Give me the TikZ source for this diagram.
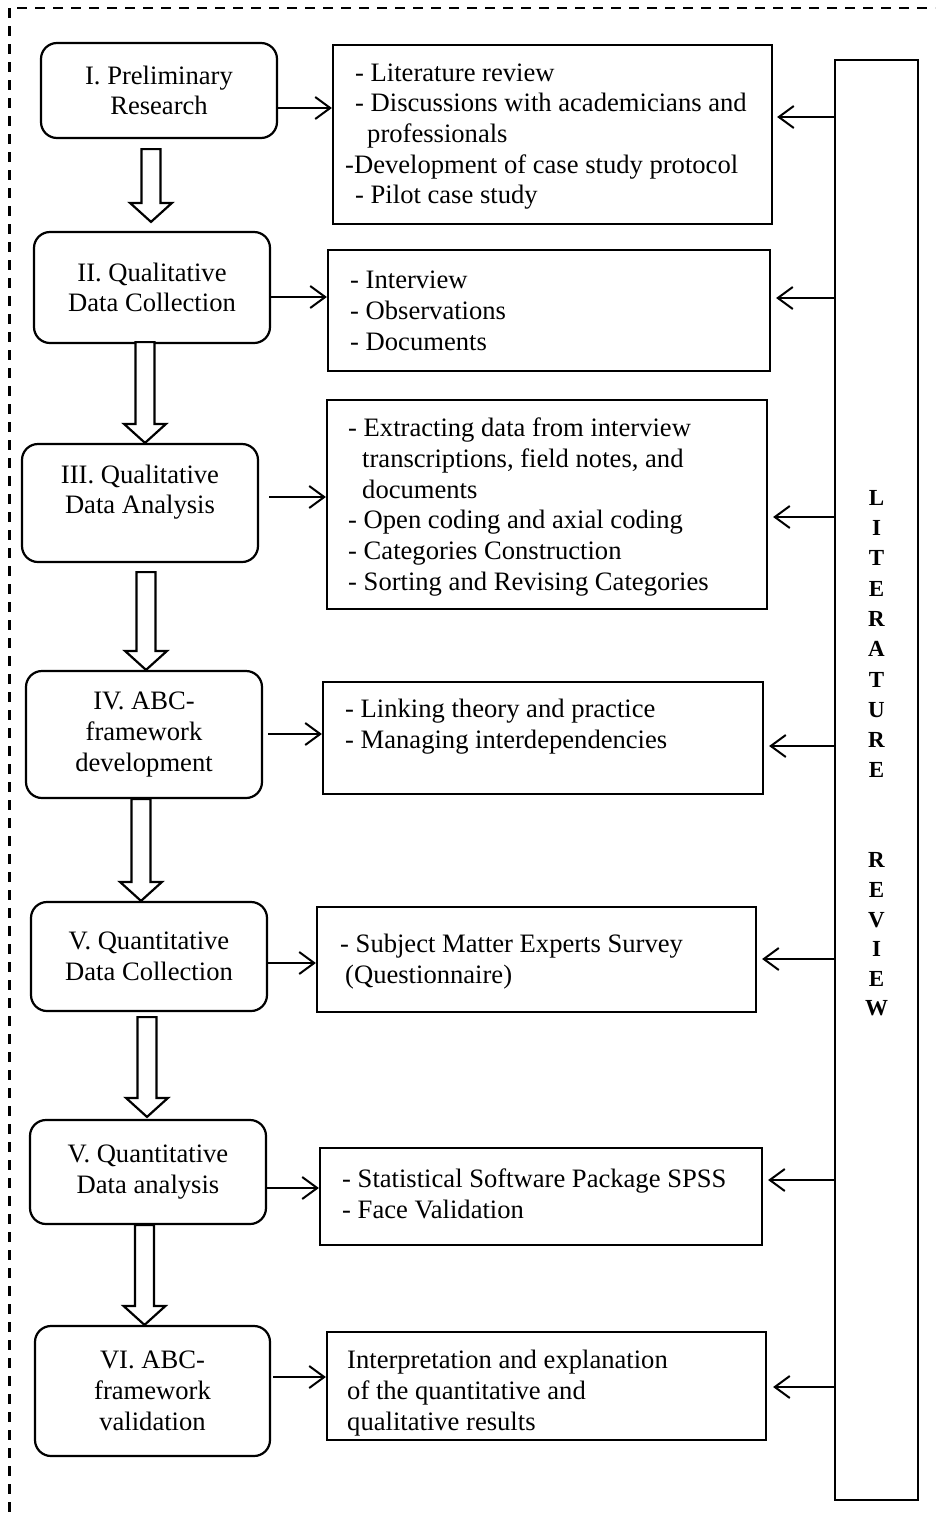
\documentclass[tikz,border=0pt]{standalone}
\usepackage{fontspec}
\setmainfont{Liberation Serif}
\usetikzlibrary{arrows.meta,calc}
\newcommand\dfont{\fontsize{26.6pt}{30.7pt}\selectfont}
\newcommand\blockarr[5]{%
  \draw[blk] let \p1=(#1.south), \p2=(#2.north) in
    (#3pt-9.5pt,\y1-#4pt) -- (#3pt+9.5pt,\y1-#4pt) -- (#3pt+9.5pt,\y2+#5pt+19pt)
    -- (#3pt+21pt,\y2+#5pt+19pt) -- (#3pt,\y2+#5pt) -- (#3pt-21pt,\y2+#5pt+19pt)
    -- (#3pt-9.5pt,\y2+#5pt+19pt) -- cycle;}
\tikzset{
  lbox/.style={draw, line width=2.2pt, rounded corners=16pt, align=center, font=\dfont, inner sep=0pt},
  rbox/.style={draw, line width=2.2pt, inner sep=0pt},
  rtext/.style={anchor=west, align=left, font=\dfont, inner sep=0pt},
  ltext/.style={align=center, font=\dfont, inner sep=0pt},
  lrtext/.style={align=center, font=\fontsize{23pt}{30.3pt}\selectfont\bfseries, inner sep=0pt},
  conn/.style={line width=2pt, -{Straight Barb[length=15pt,width=22pt,line width=2pt]}},
  blk/.style={draw, fill=white, line width=2.2pt, line join=miter},
  border/.style={draw, line width=2.2pt, dash pattern=on 10pt off 8pt}
}
\begin{document}
\begin{tikzpicture}[x=1pt,y=-1pt]
\useasboundingbox (0,0) rectangle (935,1516);
\fill[white] (0,0) rectangle (935,1516);
\clip (0,0) rectangle (935,1516);
\draw[border] (9.5,8) rectangle (1000,1600);

% left boxes
\node[lbox, minimum width=236pt, minimum height=95pt] (L1) at (159,90.5) {I. Preliminary\\Research};
\node[lbox, minimum width=236pt, minimum height=111pt] (L2) at (152,287.5) {II. Qualitative\\Data Collection};
\node[lbox, minimum width=236pt, minimum height=118pt] (L3) at (140,503) {};
\node[ltext] (L3t) at (140,492) {III. Qualitative\\Data Analysis};
\node[lbox, minimum width=236pt, minimum height=127pt] (L4) at (144,734.5) {IV. ABC-\\framework\\development};
\node[lbox, minimum width=236pt, minimum height=109pt] (L5) at (149,956.5) {V. Quantitative\\Data Collection};
\node[lbox, minimum width=236pt, minimum height=104pt] (L6) at (148,1172) {V. Quantitative\\Data analysis};
\node[lbox, minimum width=235pt, minimum height=130pt] (L7) at (152.5,1391) {VI. ABC-\\framework\\validation};

% right boxes
\node[rbox, minimum width=439pt, minimum height=179pt] (R1) at (552.5,134.5) {};
\node[rbox, minimum width=442pt, minimum height=121pt] (R2) at (549,310.5) {};
\node[rbox, minimum width=440pt, minimum height=209pt] (R3) at (547,504.5) {};
\node[rbox, minimum width=440pt, minimum height=112pt] (R4) at (543,738) {};
\node[rbox, minimum width=439pt, minimum height=105pt] (R5) at (536.5,959.5) {};
\node[rbox, minimum width=442pt, minimum height=97pt] (R6) at (541,1196.5) {};
\node[rbox, minimum width=439pt, minimum height=108pt] (R7) at (546.5,1386) {};

\node[rtext] (R1t) at (345,136.5) {\hspace*{10pt}- Literature review\\\hspace*{10pt}- Discussions with academicians and\\\hspace*{22pt}professionals\\-Development of case study protocol\\\hspace*{10pt}- Pilot case study};
\node[rtext] (R2t) at (350,311) {- Interview\\- Observations\\- Documents};
\node[rtext] (R3t) at (348,507) {- Extracting data from interview\\\hspace*{14pt}transcriptions, field notes, and\\\hspace*{14pt}documents\\- Open coding and axial coding\\- Categories Construction\\- Sorting and Revising Categories};
\node[rtext] (R4t) at (345,726.5) {- Linking theory and practice\\- Managing interdependencies};
\node[rtext] (R5t) at (340,961.5) {- Subject Matter Experts Survey\\\hspace*{5pt}(Questionnaire)};
\node[rtext] (R6t) at (342,1193.5) {- Statistical Software Package SPSS\\- Face Validation};
\node[rtext] (R7t) at (347,1393) {Interpretation and explanation\\of the quantitative and\\qualitative results};

% literature review bar
\node[rbox, minimum width=83pt, minimum height=1440pt] (LR) at (876.5,780) {};
\node[lrtext, anchor=north] (LRt) at (876.5,490) {L\\I\\T\\E\\R\\A\\T\\U\\R\\E\\[59.7pt]R\\[-0.7pt]E\\[-0.7pt]V\\[-0.7pt]I\\[-0.7pt]E\\[-0.7pt]W};

% block arrows
\blockarr{L1}{L2}{151}{10}{9}
\blockarr{L2}{L3}{145}{-2}{0}
\blockarr{L3}{L4}{146}{9}{0}
\blockarr{L4}{L5}{141}{0}{0}
\blockarr{L5}{L6}{147}{5}{2}
\blockarr{L6}{L7}{144.5}{0}{0}

% left to right arrows
\draw[conn] (L1.east |- 0,108) -- (R1.west |- 0,108);
\draw[conn] (L2.east |- 0,297) -- (R2.west |- 0,297);
\draw[conn, shorten <=10pt] (L3.east |- 0,497) -- (R3.west |- 0,497);
\draw[conn, shorten <=5pt] (L4.east |- 0,734) -- (R4.west |- 0,734);
\draw[conn] (L5.east |- 0,963) -- (R5.west |- 0,963);
\draw[conn] (L6.east |- 0,1188) -- (R6.west |- 0,1188);
\draw[conn, shorten <=2pt] (L7.east |- 0,1377) -- (R7.west |- 0,1377);

% literature review to right boxes
\draw[conn, shorten >=4pt] (LR.west |- 0,117) -- (R1.east |- 0,117);
\draw[conn, shorten >=5pt] (LR.west |- 0,298) -- (R2.east |- 0,298);
\draw[conn, shorten >=5pt] (LR.west |- 0,517) -- (R3.east |- 0,517);
\draw[conn, shorten >=5pt] (LR.west |- 0,746) -- (R4.east |- 0,746);
\draw[conn, shorten >=5pt] (LR.west |- 0,959) -- (R5.east |- 0,959);
\draw[conn, shorten >=5pt] (LR.west |- 0,1180) -- (R6.east |- 0,1180);
\draw[conn, shorten >=6pt] (LR.west |- 0,1387) -- (R7.east |- 0,1387);
\end{tikzpicture}
\end{document}
